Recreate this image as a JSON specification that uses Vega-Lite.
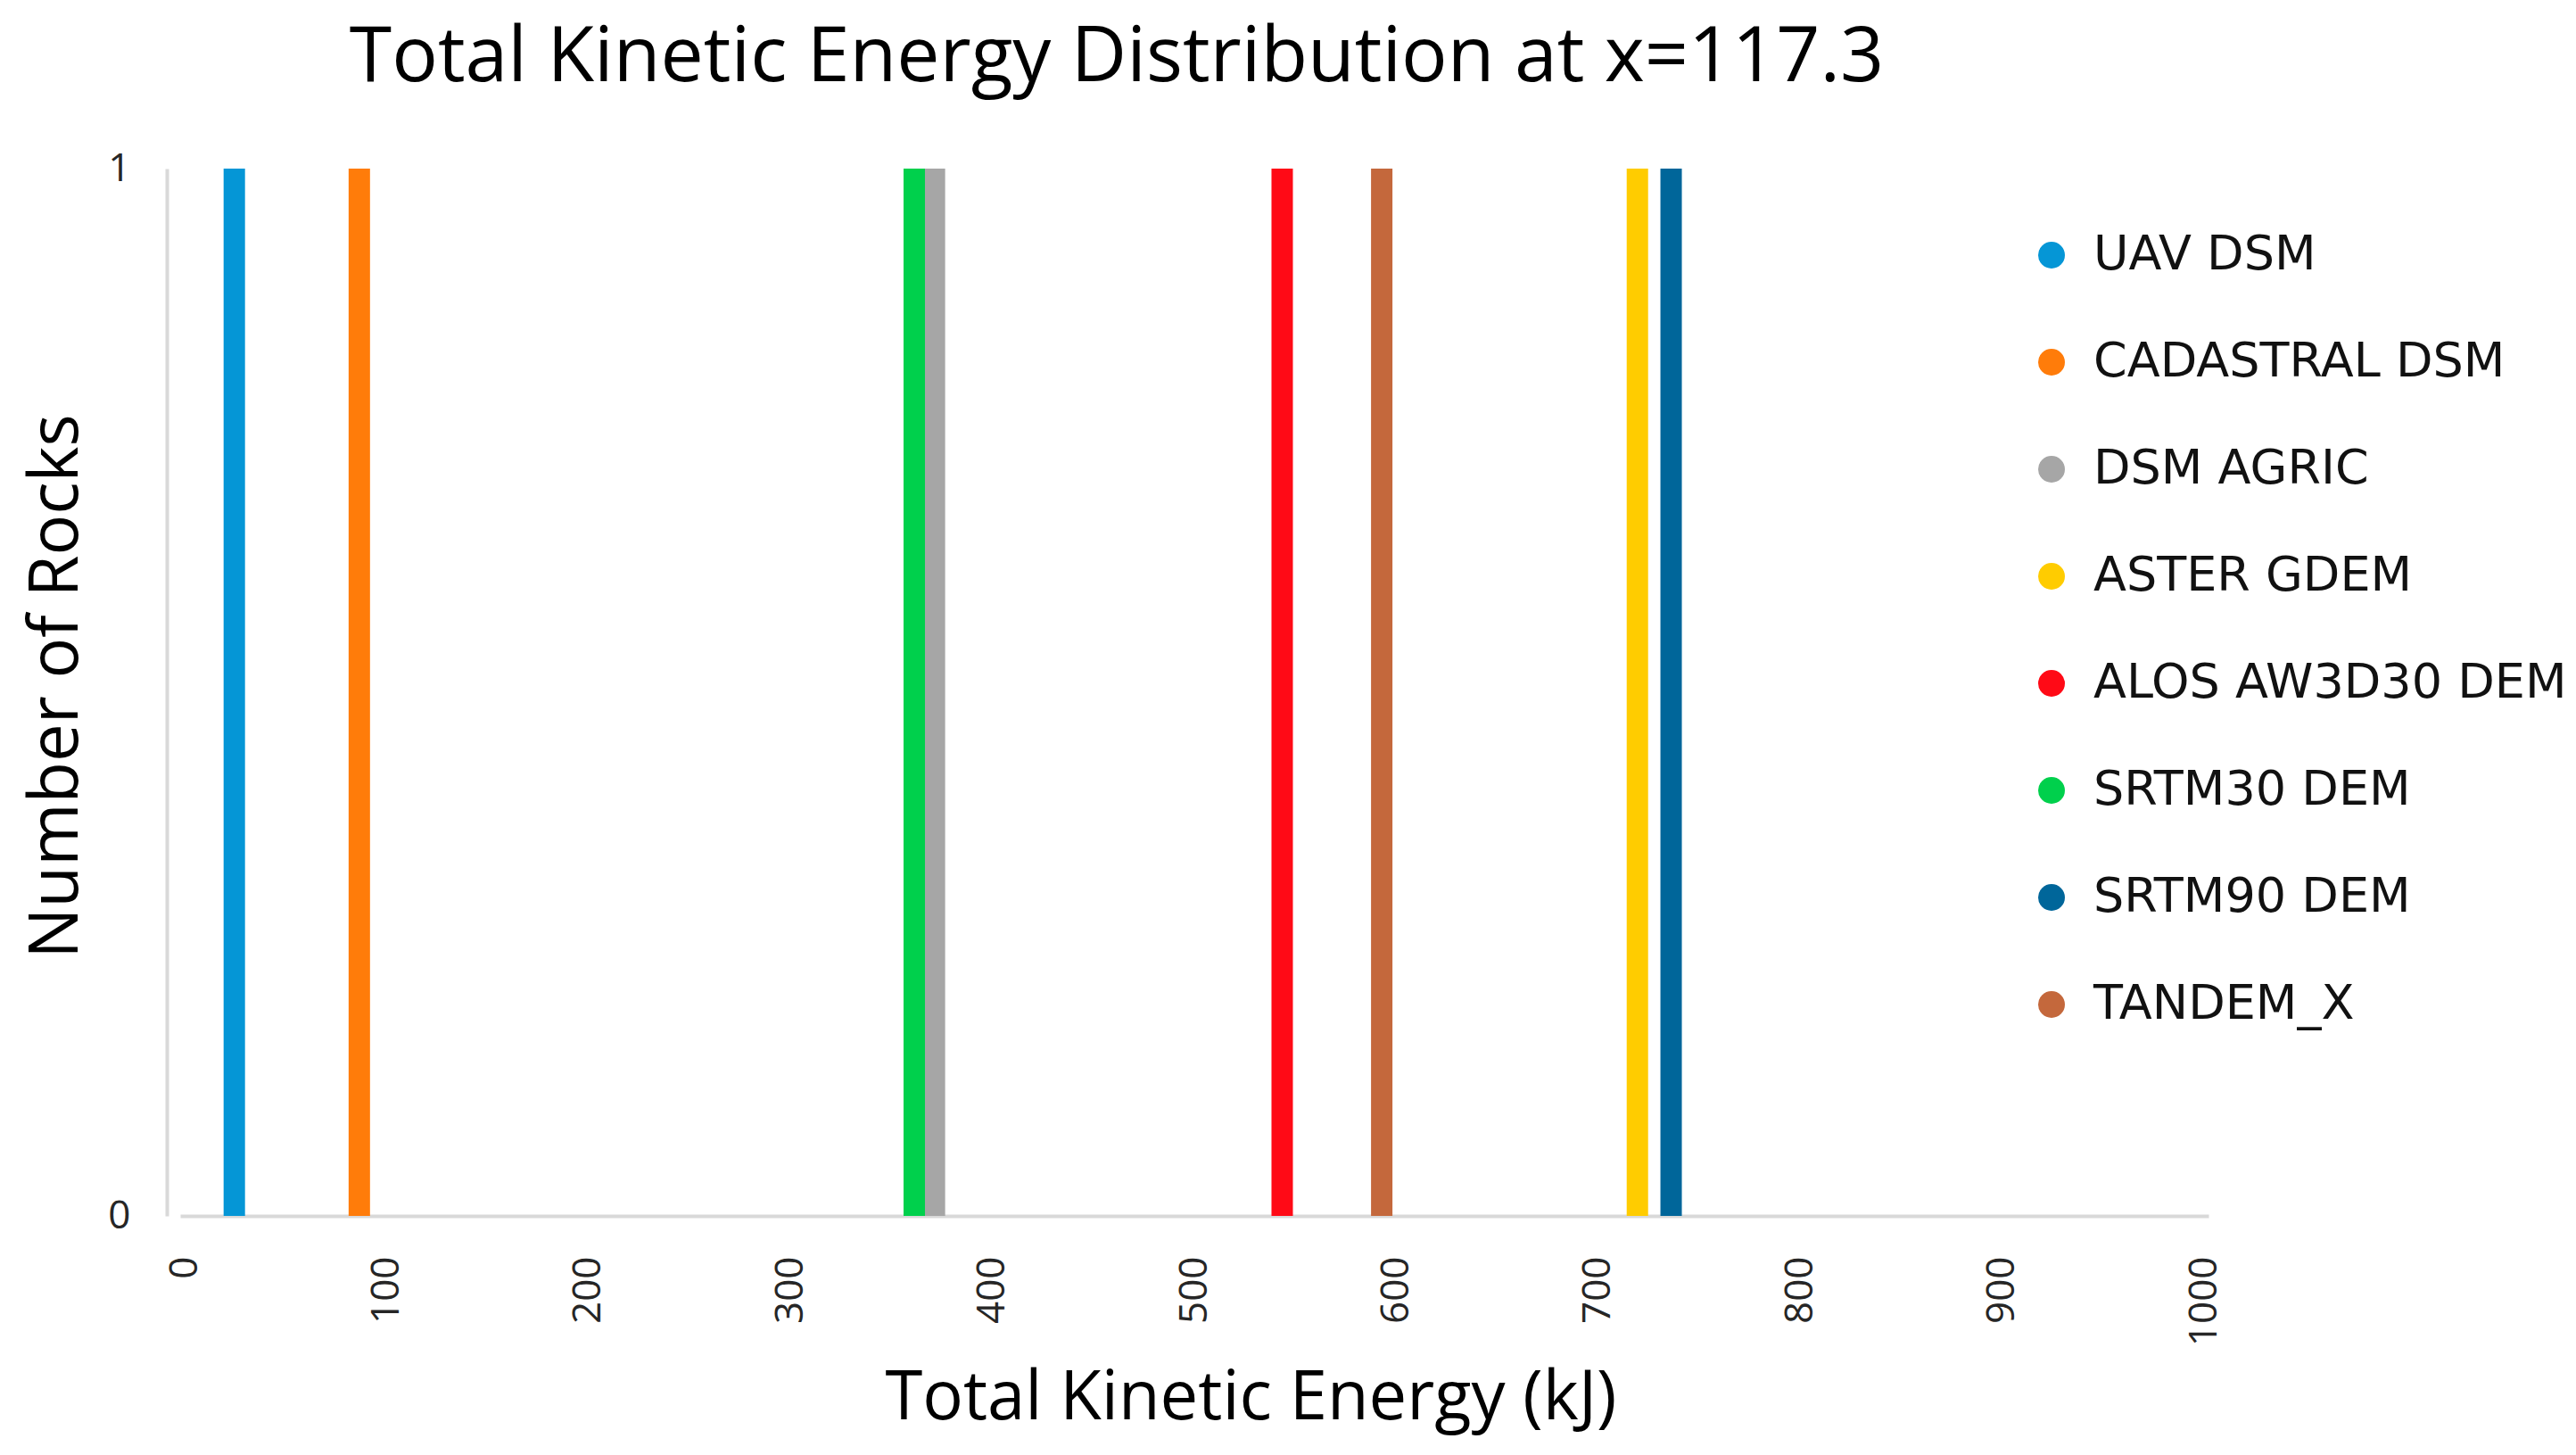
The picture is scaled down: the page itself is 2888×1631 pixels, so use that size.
{
  "$schema": "https://vega.github.io/schema/vega-lite/v6.json",
  "width": 2274,
  "height": 1174,
  "autosize": {"type": "none"},
  "padding": {"left": 202, "top": 189, "right": 412, "bottom": 268},
  "background": "white",
  "config": {"view": {"stroke": null}},
  "title": {
    "text": "Total Kinetic Energy Distribution at x=117.3",
    "font": "Open Sans",
    "fontSize": 86,
    "fontWeight": "normal",
    "color": "#000000",
    "anchor": "middle",
    "frame": "group",
    "dx": -87,
    "offset": 58
  },
  "data": {
    "values": [
      {"dem": "UAV DSM", "energy": 24.6, "rocks": 1},
      {"dem": "CADASTRAL DSM", "energy": 86.5, "rocks": 1},
      {"dem": "DSM AGRIC", "energy": 371.3, "rocks": 1},
      {"dem": "ASTER GDEM", "energy": 719.4, "rocks": 1},
      {"dem": "ALOS AW3D30 DEM", "energy": 543.5, "rocks": 1},
      {"dem": "SRTM30 DEM", "energy": 361.3, "rocks": 1},
      {"dem": "SRTM90 DEM", "energy": 736.1, "rocks": 1},
      {"dem": "TANDEM_X", "energy": 592.8, "rocks": 1}
    ]
  },
  "mark": {"type": "bar", "orient": "vertical", "size": 24},
  "encoding": {
    "x": {
      "field": "energy",
      "type": "quantitative",
      "scale": {"domain": [0, 1000], "nice": false, "zero": false},
      "axis": {
        "values": [0, 100, 200, 300, 400, 500, 600, 700, 800, 900, 1000],
        "format": "d",
        "grid": false,
        "ticks": false,
        "tickSize": 0,
        "domainColor": "#d9d9d9",
        "domainWidth": 4,
        "labelAngle": -90,
        "labelFont": "Open Sans",
        "labelFontSize": 44,
        "labelColor": "#262626",
        "labelPadding": 45,
        "labelOverlap": false,
        "title": "Total Kinetic Energy (kJ)",
        "titleFont": "Open Sans",
        "titleFontSize": 76,
        "titleFontWeight": "normal",
        "titleColor": "#000000",
        "titleX": 1200,
        "titleY": 227,
        "titleAlign": "center",
        "titleBaseline": "alphabetic"
      }
    },
    "y": {
      "field": "rocks",
      "type": "quantitative",
      "stack": null,
      "scale": {"domain": [0, 1], "nice": false},
      "axis": {
        "values": [0, 1],
        "format": "d",
        "grid": false,
        "ticks": false,
        "tickSize": 0,
        "offset": 15,
        "domainColor": "#d9d9d9",
        "domainWidth": 4,
        "labelFont": "Open Sans",
        "labelFontSize": 44,
        "labelColor": "#262626",
        "labelPadding": 41,
        "title": "Number of Rocks",
        "titleFont": "Open Sans",
        "titleFontSize": 76,
        "titleFontWeight": "normal",
        "titleColor": "#000000",
        "titleX": -101,
        "titleY": 580,
        "titleAngle": -90,
        "titleAlign": "center",
        "titleBaseline": "alphabetic"
      }
    },
    "color": {
      "field": "dem",
      "type": "nominal",
      "scale": {
        "domain": ["UAV DSM", "CADASTRAL DSM", "DSM AGRIC", "ASTER GDEM", "ALOS AW3D30 DEM", "SRTM30 DEM", "SRTM90 DEM", "TANDEM_X"],
        "range": ["#0596d6", "#ff7c0a", "#a6a6a6", "#ffcc00", "#ff0a16", "#00d04c", "#00669a", "#c4683c"]
      },
      "legend": {
        "title": null,
        "orient": "none",
        "legendX": 2071,
        "legendY": 70,
        "padding": 0,
        "symbolType": "circle",
        "symbolSize": 900,
        "symbolStrokeWidth": 0,
        "labelFont": "DejaVu Sans",
        "labelFontSize": 54,
        "labelFontWeight": 500,
        "labelColor": "#111111",
        "labelOffset": 20,
        "labelLimit": 1000,
        "rowPadding": 66
      }
    }
  }
}
